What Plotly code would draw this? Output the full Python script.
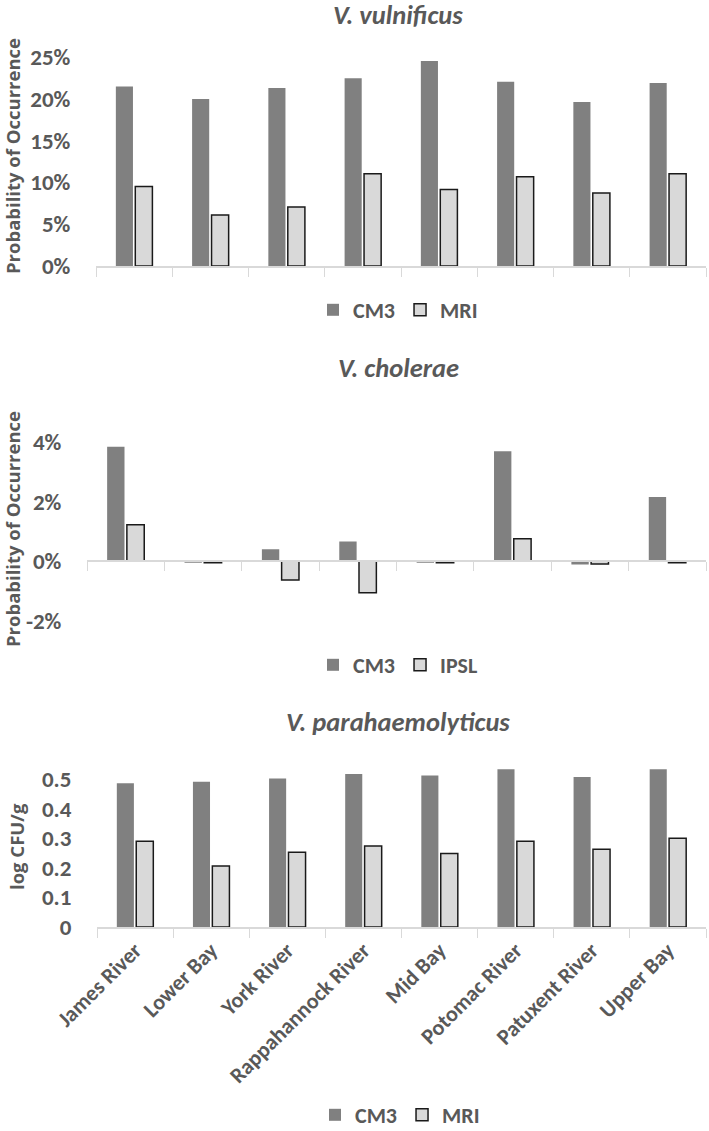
import plotly.graph_objects as go

W, H = 709, 1131

sites = ["James River", "Lower Bay", "York River", "Rappahannock River",
         "Mid Bay", "Potomac River", "Patuxent River", "Upper Bay"]

# Panel 1: V. vulnificus (probability of occurrence)
vv_cm3 = [0.2148, 0.1996, 0.2128, 0.2244, 0.2452, 0.2204, 0.1960, 0.2188]
vv_mri = [0.0950, 0.0610, 0.0706, 0.1104, 0.0914, 0.1066, 0.0874, 0.1104]

# Panel 2: V. cholerae (probability of occurrence)
vc_cm3 = [0.0384, -0.0006, 0.0040, 0.0066, -0.0006, 0.0369, -0.0012, 0.0215]
vc_ipsl = [0.0122, -0.0006, -0.0064, -0.0107, -0.0006, 0.0075, -0.0010, -0.0006]

# Panel 3: V. parahaemolyticus (log CFU/g)
vp_cm3 = [0.486, 0.491, 0.502, 0.517, 0.512, 0.533, 0.507, 0.533]
vp_mri = [0.290, 0.206, 0.253, 0.274, 0.248, 0.290, 0.263, 0.300]

vv_ticks = [0, 0.05, 0.10, 0.15, 0.20, 0.25]
vc_ticks = [-0.02, 0, 0.02, 0.04]
vc_ticktext = ["-2%", "0%", "2%", "4%"]
vp_ticks = [0, 0.1, 0.2, 0.3, 0.4, 0.5]
vp_ticktext = ["0", "0.1", "0.2", "0.3", "0.4", "0.5"]

TXT = "#595959"
DARK = "#808080"
LIGHT = "#d9d9d9"
FONT = "Carlito, Lato, sans-serif"
YFONT = "Open Sans, sans-serif"


def py(px):
    return 1 - px / H


def px_(x):
    return x / W


fig = go.Figure()

light_line = dict(color="#1a1a1a", width=1.5)

fig.add_trace(go.Bar(x=sites, y=vv_cm3, name="CM3", marker=dict(color=DARK),
                     xaxis="x", yaxis="y", legend="legend"))
fig.add_trace(go.Bar(x=sites, y=vv_mri, name="MRI", marker=dict(color=LIGHT, line=light_line),
                     xaxis="x", yaxis="y", legend="legend"))

fig.add_trace(go.Bar(x=sites, y=vc_cm3, name="CM3", marker=dict(color=DARK),
                     xaxis="x2", yaxis="y2", legend="legend2"))
fig.add_trace(go.Bar(x=sites, y=vc_ipsl, name="IPSL", marker=dict(color=LIGHT, line=light_line),
                     xaxis="x2", yaxis="y2", legend="legend2"))

fig.add_trace(go.Bar(x=sites, y=vp_cm3, name="CM3", marker=dict(color=DARK),
                     xaxis="x3", yaxis="y3", legend="legend3"))
fig.add_trace(go.Bar(x=sites, y=vp_mri, name="MRI", marker=dict(color=LIGHT, line=light_line),
                     xaxis="x3", yaxis="y3", legend="legend3"))

xcommon = dict(type="category", showline=True, linecolor=LIGHT, linewidth=1.5,
               ticks="outside", ticklen=9, tickcolor=LIGHT, tickwidth=1.2,
               tickson="boundaries", showgrid=False, zeroline=False,
               fixedrange=True, automargin=False)
ycommon = dict(showgrid=False, zeroline=False, showline=False,
               ticks="outside", ticklen=20, tickcolor="rgba(0,0,0,0)",
               automargin=False, fixedrange=True,
               tickfont=dict(family=FONT, size=23, color=TXT, weight="bold"))

fig.update_layout(
    template="none",
    width=W, height=H,
    margin=dict(l=0, r=0, t=0, b=0, pad=0, autoexpand=False),
    paper_bgcolor="white", plot_bgcolor="white",
    barmode="group", bargap=0.49, bargroupgap=0.12,
    font=dict(family=FONT, color=TXT),
    xaxis=dict(domain=[px_(96), px_(706)], anchor="y", showticklabels=False, **xcommon),
    yaxis=dict(domain=[py(266), py(48.6)], anchor="x", range=[0, 0.26],
               tickvals=vv_ticks, tickformat=".0%", **ycommon),
    xaxis2=dict(domain=[px_(87), px_(706)], anchor="free", position=py(561),
                showticklabels=False, **xcommon),
    yaxis2=dict(domain=[py(650.3), py(406.3)], anchor="x2", range=[-0.03, 0.052],
                tickvals=vc_ticks, ticktext=vc_ticktext, **ycommon),
    xaxis3=dict(domain=[px_(97), px_(706)], anchor="y3", showticklabels=True,
                tickangle=-45,
                tickfont=dict(family=FONT, size=22, color=TXT, weight="bold"),
                **xcommon),
    yaxis3=dict(domain=[py(927), py(767.2)], anchor="x3", range=[0, 0.54],
                tickvals=vp_ticks, ticktext=vp_ticktext, **ycommon),
)

leg_common = dict(orientation="h", xanchor="center", yanchor="middle",
                  font=dict(family=FONT, size=22, color=TXT, weight="bold"),
                  bgcolor="rgba(0,0,0,0)", itemwidth=30, traceorder="normal")
fig.update_layout(
    legend=dict(x=px_(398), y=py(310), **leg_common),
    legend2=dict(x=px_(398), y=py(665), **leg_common),
    legend3=dict(x=px_(400), y=py(1115), **leg_common),
)

titles = [("V. vulnificus", 15), ("V. cholerae", 368), ("V. parahaemolyticus", 722)]
for t, yy in titles:
    fig.add_annotation(text=f"<b><i>{t}</i></b>", x=px_(398), y=py(yy), xref="paper", yref="paper",
                       showarrow=False, xanchor="center", yanchor="middle",
                       font=dict(family=FONT, size=26.5, color=TXT))

ytitles = [("Probability of Occurrence", 12, 156), ("Probability of Occurrence", 12, 529),
           ("log CFU/g", 16, 847)]
for t, xx, yy in ytitles:
    fig.add_annotation(text=f"<b>{t}</b>", x=px_(xx), y=py(yy), xref="paper", yref="paper",
                       showarrow=False, xanchor="center", yanchor="middle", textangle=-90,
                       font=dict(family=YFONT, size=18.5, color=TXT))

fig.write_html("out.html", config={"displayModeBar": False},
               post_script="document.body.style.margin='0';document.body.style.overflow='hidden';")
